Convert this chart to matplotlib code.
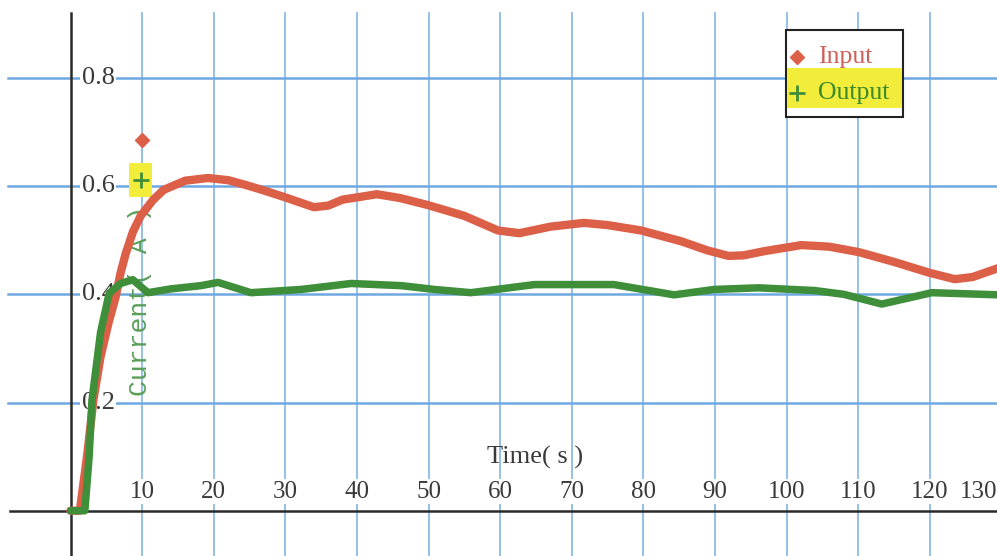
import matplotlib
matplotlib.use("Agg")
import matplotlib.pyplot as plt
from matplotlib import font_manager, transforms
from matplotlib.patches import Rectangle
from matplotlib.lines import Line2D

# ---------------- data ----------------
input_t = [0, 1.3, 2.3, 3.2, 4.2, 5.3, 6.3, 7.0, 7.7, 8.7, 9.8, 11.5, 13.0, 16.0, 19.2, 22.0, 24.5,
           27.0, 29.8, 32.0, 34.0, 36.0, 38.0, 42.8, 46.0, 49.9, 55.0, 59.7, 62.7,
           67.0, 71.7, 75.0, 79.7, 85.3, 89.0, 91.9, 94.0, 97.0, 102.1, 106.0, 110.1,
           115.0, 119.9, 123.5, 126.0, 129.7]
input_v = [0, 0, 0.10, 0.205, 0.285, 0.347, 0.395, 0.440, 0.475, 0.515, 0.545, 0.574, 0.593, 0.610,
           0.615, 0.611, 0.602,
           0.592, 0.580, 0.570, 0.561, 0.564, 0.575, 0.585, 0.578, 0.565, 0.545, 0.518, 0.513,
           0.525, 0.532, 0.528, 0.518, 0.498, 0.481, 0.471, 0.472, 0.480, 0.491, 0.488, 0.478,
           0.460, 0.440, 0.428, 0.432, 0.449]

output_t = [0, 2.0, 2.6, 3.0, 4.2, 5.4, 7.0, 8.7, 10.8, 14.0, 18.2, 20.6, 25.2, 32.2,
            39.2, 46.2, 50.8, 55.9, 64.8, 75.9, 84.3, 89.9, 96.1, 103.9, 108.0, 113.3,
            120.3, 129.7]
output_v = [0, 0, 0.10, 0.205, 0.33, 0.402, 0.420, 0.427, 0.403, 0.410, 0.416, 0.422, 0.403, 0.409,
            0.420, 0.416, 0.409, 0.403, 0.418, 0.418, 0.399, 0.409, 0.412, 0.407, 0.400, 0.382,
            0.403, 0.399]

x_ticks = [10, 20, 30, 40, 50, 60, 70, 80, 90, 100, 110, 120, 130]
y_ticks = [0.2, 0.4, 0.6, 0.8]
series_names = ["Input", "Output"]
x_label = "Time( s )"
y_label = "Current( A )"


def pick_font(names):
    for n in names:
        try:
            font_manager.findfont(font_manager.FontProperties(family=n), fallback_to_default=False)
            return n
        except Exception:
            continue
    return "DejaVu Sans"


FONT = pick_font(["Liberation Serif", "DejaVu Serif"])
MONO = pick_font(["Liberation Mono", "DejaVu Sans Mono"])

RED = "#dc5f48"
GREEN = "#3f8f3a"
GRID_V = "#8dbbe8"
GRID_H = "#6ea8e0"
TXT = "#3a3a3a"

fig = plt.figure(figsize=(9.97, 5.56), dpi=100)
ax = fig.add_axes([0, 0, 1, 1])
ax.set_xlim(-9.85, 129.4)
ax.set_ylim(-0.0837, 0.944)
ax.axis("off")

# grid
for xt in x_ticks:
    ax.axvline(xt, ymin=0, ymax=1 - 13 / 556, color=GRID_V, lw=1.3, zorder=1)
for yt in y_ticks:
    ax.axhline(yt, xmin=8 / 997, xmax=1, color=GRID_H, lw=1.8, zorder=1)

# axes lines
ax.axvline(0, ymin=0, ymax=1 - 13 / 556, color="#2a2a2a", lw=1.8, zorder=2)
ax.axhline(0, xmin=10 / 997, xmax=1, color="#2a2a2a", lw=1.8, zorder=2)

# x tick labels (above the axis, boxed in white so grid lines break)
xlab_kw = dict(fontsize=18, family=FONT, color=TXT, va="center", zorder=3,
               bbox=dict(boxstyle="square,pad=0.05", fc="white", ec="none"))
for xt in x_ticks[:-1]:
    ax.annotate(str(xt), (xt, 0), xytext=(0, 19), textcoords="offset pixels",
                ha="center", **xlab_kw)
blend = transforms.blended_transform_factory(ax.transAxes, ax.transData)
ax.annotate(str(x_ticks[-1]), (1.0, 0), xycoords=blend, xytext=(0, 19),
            textcoords="offset pixels", ha="right", **xlab_kw)

# y tick labels (right of the axis)
for yt in y_ticks:
    ax.annotate(f"{yt:.1f}", (0, yt), xytext=(11, 0), textcoords="offset pixels",
                ha="left", va="center", fontsize=19, family=FONT, color=TXT, zorder=3,
                bbox=dict(boxstyle="square,pad=0.05", fc="white", ec="none"))

# axis labels
ax.text(0.5366, 0.178, x_label, transform=ax.transAxes, ha="center", va="center",
        fontsize=19, family=FONT, color=TXT, zorder=3)
ax.text(0.1404, 0.459, y_label, transform=ax.transAxes, ha="center", va="center",
        rotation=90, fontsize=19, family=MONO, color="#5a9e58", zorder=3)

# markers above y label
ax.add_patch(Rectangle((0.129, 0.646), 0.023, 0.061, transform=ax.transAxes,
                       fc="#f2ec3a", ec="none", zorder=3))
ax.add_line(Line2D([0.1424], [0.748], transform=ax.transAxes, marker="D", ms=7,
                   color=RED, mec=RED, ls="none", zorder=4))
ax.add_line(Line2D([0.1414], [0.676], transform=ax.transAxes, marker="+", ms=12, mew=2,
                   color=GREEN, ls="none", zorder=4))

# curves
ax.plot(input_t, input_v, color=RED, lw=6, solid_joinstyle="round",
        solid_capstyle="round", zorder=5)
ax.plot(output_t, output_v, color=GREEN, lw=5.4, solid_joinstyle="round",
        solid_capstyle="round", zorder=6)

# legend (drawn manually)
ax.add_patch(Rectangle((0.788, 0.790), 0.118, 0.156, transform=ax.transAxes,
                       fc="white", ec="#222222", lw=1.5, zorder=7))
ax.add_patch(Rectangle((0.789, 0.806), 0.116, 0.072, transform=ax.transAxes,
                       fc="#f2ec3a", ec="none", zorder=8))
ax.add_line(Line2D([0.799], [0.897], transform=ax.transAxes, marker="D", ms=7,
                   color=RED, ls="none", zorder=9))
ax.add_line(Line2D([0.799], [0.833], transform=ax.transAxes, marker="+", ms=12, mew=2,
                   color=GREEN, ls="none", zorder=9))
ax.text(0.820, 0.897, series_names[0], transform=ax.transAxes, ha="left", va="center",
        fontsize=18.5, family=FONT, color="#d0605a", zorder=9)
ax.text(0.820, 0.833, series_names[1], transform=ax.transAxes, ha="left", va="center",
        fontsize=18.5, family=FONT, color="#3d8a2a", zorder=9)

fig.savefig("out.png", dpi=100, facecolor="white")
